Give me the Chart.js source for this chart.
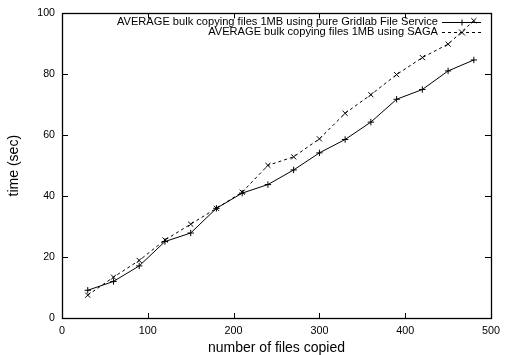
<!DOCTYPE html>
<html>
<head>
<meta charset="utf-8">
<script src="https://cdn.jsdelivr.net/npm/chart.js@4/dist/chart.umd.min.js"></script>
<style>
html,body{margin:0;padding:0;background:#fff;}
#c{display:block;}
</style>
</head>
<body>
<canvas id="c" width="507" height="355"></canvas>
<script>
const filesCopied = [30,60,90,120,150,180,210,240,270,300,330,360,390,420,450,480];
const gridlabTimes = [9.1,12.0,17.1,25.1,27.9,36.0,41.0,43.8,48.6,54.2,58.6,64.3,71.8,75.0,81.1,84.7];
const sagaTimes = [7.5,13.4,18.9,25.6,30.8,36.0,41.3,50.1,52.9,58.8,67.2,73.3,79.9,85.5,89.9,97.6];
const seriesNames = ["AVERAGE bulk copying files 1MB using pure Gridlab File Service","AVERAGE bulk copying files 1MB using SAGA"];
const xTicks = [0,100,200,300,400,500];
const yTicks = [0,20,40,60,80,100];

const FONT = "'Liberation Sans', Arial, Helvetica, sans-serif";

const framePlugin = {
  id: 'frame',
  afterDatasetsDraw(chart) {
    const {ctx, chartArea: a, scales} = chart;
    ctx.save();
    ctx.strokeStyle = '#000';
    ctx.lineWidth = 1;
    ctx.beginPath();
    xTicks.forEach(v => {
      const x = Math.round(scales.x.getPixelForValue(v)) + 0.5;
      ctx.moveTo(x, a.bottom); ctx.lineTo(x, a.bottom - 5);
      ctx.moveTo(x, a.top); ctx.lineTo(x, a.top + 5);
    });
    yTicks.forEach(v => {
      const y = Math.round(scales.y.getPixelForValue(v)) + 0.5;
      ctx.moveTo(a.left, y); ctx.lineTo(a.left + 6, y);
      ctx.moveTo(a.right, y); ctx.lineTo(a.right - 6, y);
    });
    ctx.stroke();
    ctx.lineWidth = 1.3;
    ctx.strokeRect(Math.round(a.left)+0.5, Math.round(a.top)+0.5, Math.round(a.right-a.left), Math.round(a.bottom-a.top));
    // legend
    ctx.font = '11.1px ' + FONT;
    ctx.fillStyle = '#000';
    ctx.textAlign = 'right';
    ctx.textBaseline = 'middle';
    const rows = [21.5, 32];
    chart.data.datasets.forEach((ds, i) => {
      const y = rows[i];
      ctx.fillText(seriesNames[i], 438, y);
      ctx.lineWidth = 1;
      ctx.setLineDash(ds.borderDash || []);
      ctx.beginPath();
      ctx.moveTo(442, Math.round(y) + 0.5); ctx.lineTo(481, Math.round(y) + 0.5);
      ctx.stroke();
      ctx.setLineDash([]);
      const r = 3;
      const yc = Math.round(y) + 0.5;
      ctx.beginPath();
      if (ds.pointStyle === 'cross') {
        ctx.moveTo(462 - r, yc); ctx.lineTo(462 + r, yc);
        ctx.moveTo(462, yc - r); ctx.lineTo(462, yc + r);
      } else {
        ctx.moveTo(462 - r, yc - r); ctx.lineTo(462 + r, yc + r);
        ctx.moveTo(462 + r, yc - r); ctx.lineTo(462 - r, yc + r);
      }
      ctx.stroke();
    });
    ctx.restore();
  }
};

new Chart(document.getElementById('c'), {
  type: 'line',
  data: {
    datasets: [
      {
        label: seriesNames[0],
        data: filesCopied.map((x, i) => ({x, y: gridlabTimes[i]})),
        borderColor: '#000', backgroundColor: '#000',
        borderWidth: 1, pointStyle: 'cross', pointRadius: 3.2, pointBorderWidth: 1,
        tension: 0, fill: false
      },
      {
        label: seriesNames[1],
        data: filesCopied.map((x, i) => ({x, y: sagaTimes[i]})),
        borderColor: '#000', backgroundColor: '#000',
        borderWidth: 1, borderDash: [3, 3], pointStyle: 'crossRot', pointRadius: 3.6, pointBorderWidth: 1,
        tension: 0, fill: false
      }
    ]
  },
  options: {
    responsive: false,
    animation: false,
    devicePixelRatio: 1,
    layout: { padding: { top: 12, right: 15, left: 0, bottom: 0 } },
    plugins: { legend: { display: false }, tooltip: { enabled: false } },
    scales: {
      x: {
        type: 'linear', min: 0, max: 500,
        afterBuildTicks: s => { s.ticks = xTicks.map(v => ({value: v})); },
        afterFit: s => { s.height = 37; },
        grid: { display: false, drawTicks: false },
        border: { display: false },
        ticks: { color: '#000', font: { family: FONT, size: 10.8 }, padding: 7, maxRotation: 0 },
        title: { display: true, text: 'number of files copied', color: '#000', font: { family: FONT, size: 14 }, padding: { top: 0, bottom: -1.5 } }
      },
      y: {
        type: 'linear', min: 0, max: 100,
        afterBuildTicks: s => { s.ticks = yTicks.map(v => ({value: v})); },
        afterFit: s => { s.width = 62; },
        grid: { display: false, drawTicks: false },
        border: { display: false },
        ticks: { color: '#000', font: { family: FONT, size: 10.6 }, padding: 7 },
        title: { display: true, text: 'time (sec)', color: '#000', font: { family: FONT, size: 14 }, padding: { top: 6, bottom: 0 } }
      }
    }
  },
  plugins: [framePlugin]
});
</script>
</body>
</html>
